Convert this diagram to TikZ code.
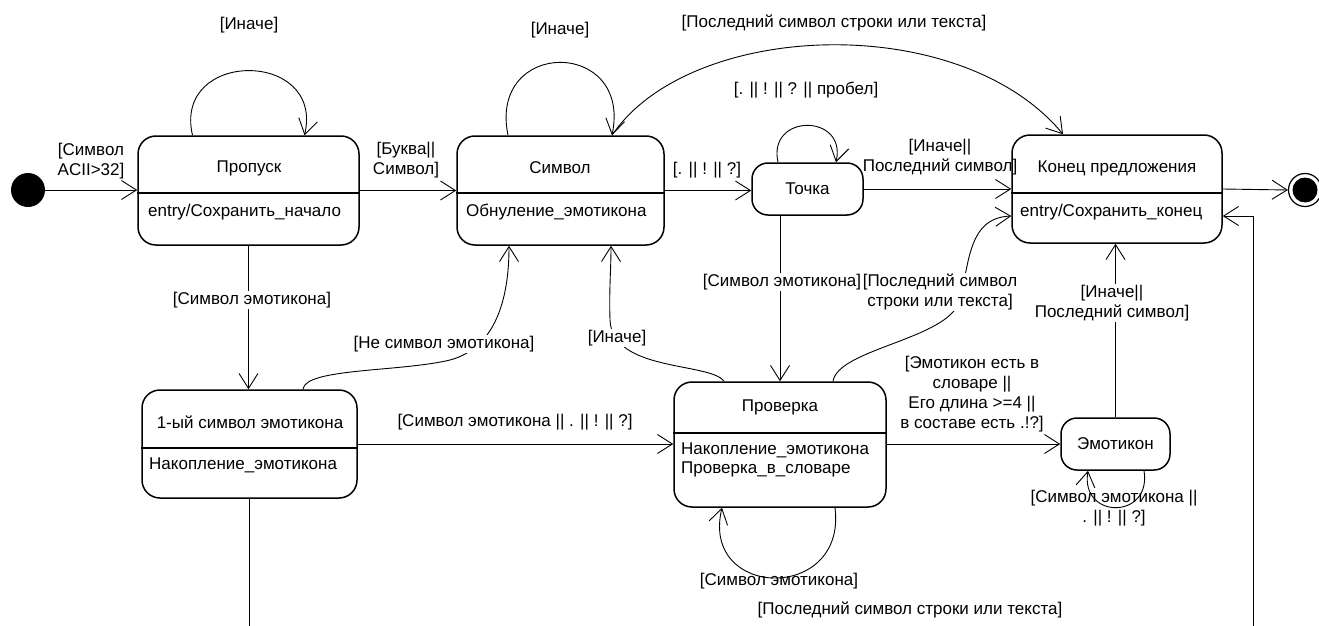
\documentclass[tikz,border=0pt]{standalone}
\usepackage{fontspec}
\setmainfont{Liberation Sans}
\usetikzlibrary{arrows.meta,calc}

\begin{document}
\begin{tikzpicture}[x=1pt,y=-1pt,
  font=\fontsize{17}{20}\selectfont,
  state/.style={draw, line width=1.5pt, rounded corners=18pt, inner sep=0pt},
  smallstate/.style={draw, line width=1.5pt, rounded corners=16pt, inner sep=0pt},
  divider/.style={line width=1.5pt},
  arr/.style={line width=0.9pt, -{Straight Barb[length=15pt,width=19pt]}},
  lbl/.style={align=center, inner sep=1pt},
  lblw/.style={lbl, fill=white},
  act/.style={anchor=west, inner sep=0pt, align=left},
  ttl/.style={inner sep=0pt}
]
\useasboundingbox (0,0) rectangle (1319,626);

% ---------- states ----------
\node[circle, fill, minimum size=34pt, inner sep=0pt] (init) at (28,190) {};
\node[circle, draw, line width=1.2pt, minimum size=33pt, inner sep=0pt] (fin) at (1305,190) {};
\node[circle, fill, minimum size=25pt, inner sep=0pt] (finin) at (fin) {};

\node[state, minimum width=221pt, minimum height=109pt] (propusk) at (248.5,190.5) {};
\draw[divider] ([yshift=-2.5pt]propusk.west) -- ([yshift=-2.5pt]propusk.east);
\node[ttl] (propuskT) at (249,168) {Пропуск};
\node[act] (propuskA) at (148,212) {entry/Сохранить\_начало};

\node[state, minimum width=207pt, minimum height=109pt] (simvol) at (560.5,190.5) {};
\draw[divider] ([yshift=-2.5pt]simvol.west) -- ([yshift=-2.5pt]simvol.east);
\node[ttl] (simvolT) at (560,168) {Символ};
\node[act] (simvolA) at (466,212) {Обнуление\_эмотикона};

\node[smallstate, minimum width=111pt, minimum height=52pt] (tochka) at (807.5,189) {Точка};

\node[state, minimum width=210pt, minimum height=108pt] (konec) at (1117,189) {};
\draw[divider] ([yshift=-4pt]konec.west) -- ([yshift=-4pt]konec.east);
\node[ttl] (konecT) at (1117,168) {Конец предложения};
\node[act] (konecA) at (1020,212) {entry/Сохранить\_конец};

\node[state, minimum width=215pt, minimum height=108pt] (first) at (249.5,444) {};
\draw[divider] ([yshift=-4pt]first.west) -- ([yshift=-4pt]first.east);
\node[ttl] (firstT) at (250,422) {1-ый символ эмотикона};
\node[act] (firstA) at (149,465) {Накопление\_эмотикона};

\node[state, minimum width=212pt, minimum height=125pt] (proverka) at (780,444.5) {};
\draw[divider] ([yshift=11.5pt]proverka.west) -- ([yshift=11.5pt]proverka.east);
\node[ttl] (proverkaT) at (780,407) {Проверка};
\node[act, font=\fontsize{17}{19}\selectfont] (proverkaA) at (681,459.5) {Накопление\_эмотикона\\Проверка\_в\_словаре};

\node[smallstate, minimum width=109pt, minimum height=52pt] (emot) at (1115.5,444) {Эмотикон};

% ---------- straight transitions ----------
\draw[arr] (init.east) -- (init.east -| propusk.west);
\draw[arr] (propusk.east) -- (propusk.east -| simvol.west);
\draw[arr] (simvol.east) -- (simvol.east -| tochka.west);
\draw[arr] (tochka.east) -- (tochka.east -| konec.west);
\draw[arr] (konec.east) -- (fin.west);
\draw[arr] (propusk.south) -- (propusk.south |- first.north);
\draw[arr] (first.east) -- (first.east -| proverka.west);
\draw[arr] (proverka.north |- tochka.south) -- (proverka.north);
\draw[arr] (proverka.east |- emot.west) -- (emot.west);
\draw[arr] (emot.north) -- (emot.north |- konec.south);

% ---------- self loops ----------
\draw[arr] ([xshift=-56pt]propusk.north) .. controls +(-20,-86) and +(20,-86) .. ([xshift=56pt]propusk.north);
\draw[arr] ([xshift=-52.5pt]simvol.north) .. controls +(-20,-97) and +(20,-97) .. ([xshift=51.5pt]simvol.north);
\draw[arr] ([xshift=-29.5pt]tochka.north) .. controls +(-11,-49) and +(11,-49) .. ([xshift=28.5pt]tochka.north);
\draw[arr] ([xshift=55pt]proverka.south) .. controls +(12,95) and +(-22,92) .. ([xshift=-58pt]proverka.south);
\draw[arr] ([xshift=28.5pt]emot.south) .. controls +(8,49) and +(-8,49) .. ([xshift=-27.5pt]emot.south);

% ---------- curved transitions ----------
\draw[arr] ([xshift=51.5pt]simvol.north) .. controls (690,20) and (960,10) .. ([xshift=-54pt]konec.north);
\draw[arr] ([xshift=53.5pt]first.north) .. controls (305,368) and (400,372) .. (450,360)
           .. controls (495,348) and (509,300) .. ([xshift=-51.5pt]simvol.south);
\draw[arr] ([xshift=-56pt]proverka.north) .. controls (710,362) and (612,372) .. (610,320)
           .. controls (609,290) and (611,270) .. ([xshift=50.5pt]simvol.south);
\draw[arr] ([xshift=53pt]proverka.north) .. controls (838,350) and (940,340) .. (958,305)
           .. controls (970,270) and (965,218) .. ([yshift=-27pt]konec.west);

\begin{scope}
\clip (0,0) rectangle (1319,626);
\draw[arr] (first.south) -- ++(0,160) -| ($(konec.east)+(31,27)$) -- ([yshift=-27pt]konec.east);
\end{scope}

% ---------- guards ----------
\node[lbl] (gInit) at (91,161) {[Символ\\ACII>32]};
\node[lbl] (gBukva) at (406,160) {[Буква||\\Символ]};
\node[lbl] (gPropLoop) at (249,25) {[Иначе]};
\node[lbl] (gSimLoop) at (560,30) {[Иначе]};
\node[lbl] (gTop) at (834,23) {[Последний символ строки или текста]};
\node[lbl] (gTochLoop) at (806,90) {[. || ! || ? || пробел]};
\node[lbl] (gPunct) at (707,170) {[. || ! || ?]};
\node[lbl] (gTochKon) at (940,157) {[Иначе||\\Последний символ]};
\node[lblw] (gFirst) at (252,300) {[Символ эмотикона]};
\node[lblw] (gNe) at (444,344) {[Не символ эмотикона]};
\node[lblw] (gInache) at (617,338) {[Иначе]};
\node[lbl] (gFirstProv) at (515,422) {[Символ эмотикона || . || ! || ?]};
\node[lblw] (gTochProv) at (782,282) {[Символ эмотикона]};
\node[lblw] (gProvKon) at (940,292) {[Последний символ\\строки или текста]};
\node[lblw] (gEmotKon) at (1112,303) {[Иначе||\\Последний символ]};
\node[lbl] (gProvEmot) at (972,394) {[Эмотикон есть в\\словаре ||\\Его длина >=4 ||\\в составе есть .!?]};
\node[lbl] (gEmotLoop) at (1114,508) {[Символ эмотикона ||\\. || ! || ?]};
\node[lbl] (gProvLoop) at (779,581) {[Символ эмотикона]};
\node[lbl] (gBottom) at (910,610) {[Последний символ строки или текста]};
\end{tikzpicture}
\end{document}
